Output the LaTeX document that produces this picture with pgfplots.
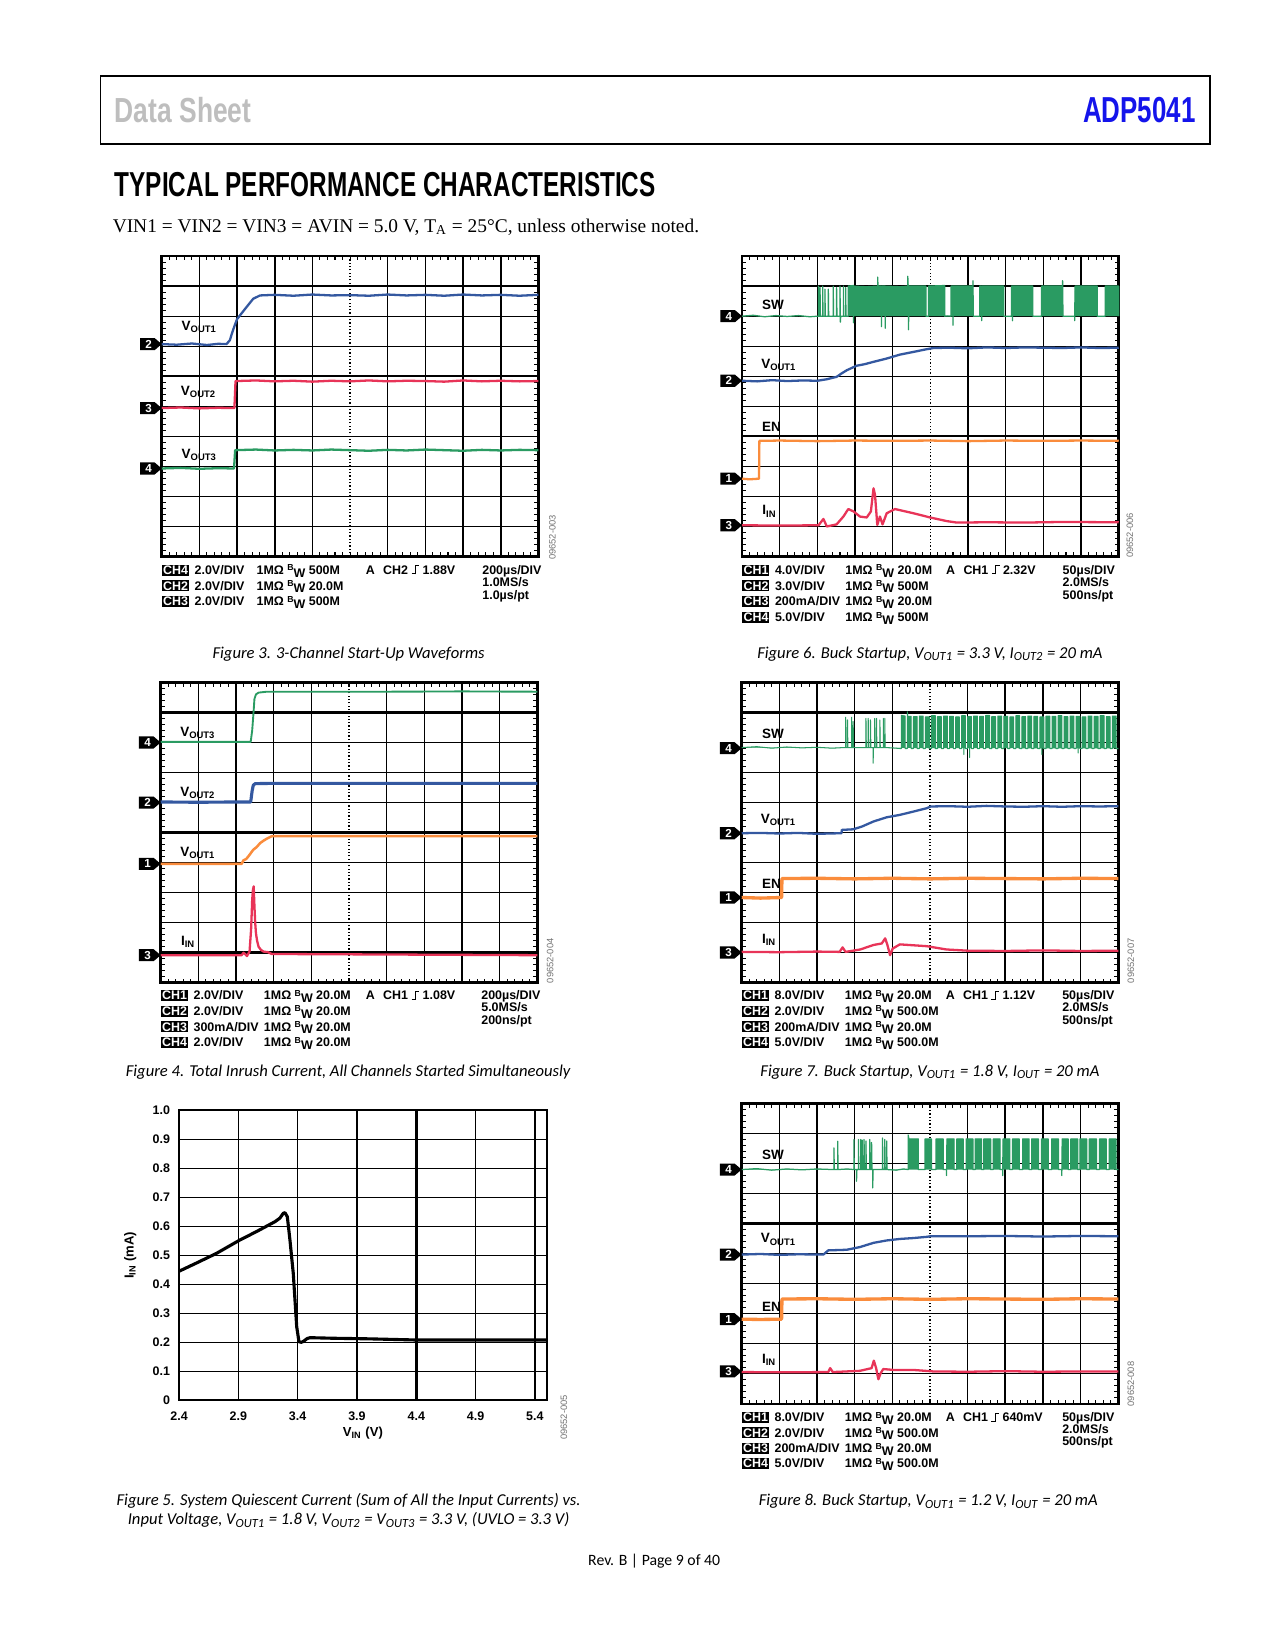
\documentclass[border=0pt]{standalone}
\usepackage{pgfplots}
\pgfplotsset{compat=1.18}
\usepackage{graphicx}
\usepackage{fontspec}
\setmainfont{Liberation Sans}
\newfontfamily\capfont{Carlito}
\newfontfamily\serifont{Liberation Serif}

\definecolor{tblue}{RGB}{52,88,160}
\definecolor{tred}{RGB}{232,52,88}
\definecolor{tgreen}{RGB}{42,155,98}
\definecolor{torange}{RGB}{250,140,60}
\definecolor{adiblue}{RGB}{20,20,235}
\definecolor{hdrgray}{RGB}{190,190,190}

% channel indicator arrows
\newcommand\defchm[1]{%
  \pgfdeclareplotmark{ch#1}{%
    \pgfpathmoveto{\pgfpoint{0bp}{0bp}}%
    \pgfpathlineto{\pgfpoint{-3.4bp}{2.9bp}}%
    \pgfpathlineto{\pgfpoint{-10.4bp}{2.9bp}}%
    \pgfpathlineto{\pgfpoint{-10.4bp}{-2.9bp}}%
    \pgfpathlineto{\pgfpoint{-3.4bp}{-2.9bp}}%
    \pgfpathclose
    \pgfsetfillcolor{black}%
    \pgfusepathqfill
    \pgftext[x=-6.3bp,y=0bp]{\color{white}\fontsize{5.6}{6}\selectfont\bfseries #1}%
  }}
\defchm{1}\defchm{2}\defchm{3}\defchm{4}

\newcommand\chb[1]{{\setlength\fboxsep{0.5bp}\colorbox{black}{\textcolor{white}{#1}}}}
\newcommand\bw{\raisebox{1.7bp}{\fontsize{4.2}{5}\selectfont B}\raisebox{-1.3bp}{W}}
\newcommand\trig{\rule{1.6bp}{0.5bp}\rule{0.5bp}{4.3bp}\rule[3.8bp]{1.6bp}{0.5bp}}
\newcommand\stf{\fontsize{6}{7}\selectfont\bfseries}

% one settings row: x, baseline y, offset of 1MOhm column, channel, volts/div, bandwidth
\newcommand\srow[6]{%
  \node[st] at (#1,#2) {\chb{#4}};
  \node[st] at ({#1+31},#2) {#5};
  \node[st] at ({#1+#3},#2) {1MΩ \bw\ #6};}
\newcommand\figcap[3]{\node[anchor=base,inner sep=0,font=\capfont\itshape\fontsize{8}{9}\selectfont] at (#1,#2) {#3};}

\pgfplotsset{
  scopeax/.style={
    scale only axis, width=180.8bp, height=144.2bp, anchor=south west,
    xmin=0, xmax=10, ymin=0, ymax=10,
    xtick={0,1,2,3,4,6,7,8,9,10}, ytick={0,1,2,3,4,6,7,8,9,10},
    minor xtick={0.2,0.4,...,9.9}, minor ytick={0.2,0.4,...,9.9},
    xticklabels={}, yticklabels={},
    major tick length=0pt, minor tick length=2bp, tick align=inside,
    minor tick style={black, line width=0.5bp},
    grid=major, major grid style={black, line width=0.6bp},
    axis line style={black, line width=1.3bp},
    clip=false,
    every axis plot/.append style={line width=1.1bp, line join=round},
  },
  crossax/.style={
    scale only axis, width=180.8bp, height=144.2bp, anchor=south west,
    xmin=-5, xmax=5, ymin=-5, ymax=5, axis lines=center,
    xtick=\empty, ytick=\empty,
    minor xtick={-4.8,-4.6,...,4.9}, minor ytick={-4.8,-4.6,...,4.9},
    minor tick length=3.4bp, tick align=center,
    minor tick style={black, line width=0.5bp},
    x axis line style={-, black, line width=0.6bp},
    y axis line style={-, black, line width=0.6bp, densely dotted},
  },
}

\begin{document}
\begin{tikzpicture}[x=0.504bp, y=-0.504bp,
  st/.style={anchor=base west, inner sep=0pt, font=\stf},
  lab/.style={anchor=west, inner sep=0pt, font=\fontsize{6.5}{7}\selectfont\bfseries},
  fid/.style={rotate=90, inner sep=0pt, font=\fontsize{4.5}{5}\selectfont, text=black!55}]
\fill[white] (0,0) rectangle (1214.3,1571.4);
\path[use as bounding box] (0,0) rectangle (1214.3,1571.4);
% lower-left corners of the six plot areas
\coordinate (p3) at (154,530);
\coordinate (p6) at (706.7,530);
\coordinate (p4) at (153,936);
\coordinate (p7) at (706.3,936);
\coordinate (p5) at (170.5,1333.6);
\coordinate (p8) at (706.3,1337);

% ---------- page header ----------
\draw[black, line width=0.9bp] (95.7,72) rectangle (1152,137.4);
\node[anchor=south west, inner sep=0pt, text=hdrgray] at (109,117)
  {\resizebox{65.5bp}{12.1bp}{\bfseries Data Sheet}};
\node[anchor=south east, inner sep=0pt, text=adiblue] at (1139,117)
  {\resizebox{53.9bp}{12.1bp}{\bfseries ADP5041}};
\node[anchor=south west, inner sep=0pt] at (109,188)
  {\resizebox{259.6bp}{11.6bp}{\bfseries TYPICAL PERFORMANCE CHARACTERISTICS}};
\node[anchor=base west, inner sep=0pt, font=\serifont\fontsize{9.35}{11}\selectfont] at (107,221)
  {VIN1 = VIN2 = VIN3 = AVIN = 5.0 V, T\textsubscript{A} = 25°C, unless otherwise noted.};

% ---------- Figure 3 ----------
\begin{axis}[crossax, at={(p3)}]\end{axis}
\begin{axis}[scopeax, at={(p3)}]
  \draw[black, line width=1.1bp] (axis cs:3,0) -- (axis cs:3,10);
  \draw[black, line width=1.1bp] (axis cs:9,0) -- (axis cs:9,10);
  \draw[black, line width=1.1bp] (axis cs:0,6) -- (axis cs:10,6);
  \addplot[tblue] coordinates {(0,7.07)(0.4,7.05)(0.8,7.09)(1.2,7.04)(1.5,7.08)(1.72,7.07)(1.81,7.2)(1.87,7.45)(1.94,7.7)(2.0,7.9)(2.08,8.03)(2.25,8.3)(2.43,8.58)(2.61,8.69)(3.0,8.71)(3.5,8.68)(4.0,8.72)(4.5,8.69)(5.0,8.7)(5.5,8.68)(6.0,8.72)(6.5,8.69)(7.0,8.71)(7.5,8.68)(8.0,8.72)(8.5,8.69)(9.0,8.71)(9.5,8.68)(10,8.71)};
  \addplot[tred] coordinates {(0,4.94)(0.5,4.96)(1.0,4.93)(1.5,4.95)(1.93,4.94)(1.96,5.84)(2.5,5.86)(3.0,5.83)(3.5,5.85)(4.0,5.82)(4.5,5.85)(5.0,5.83)(5.5,5.86)(6.0,5.83)(6.5,5.85)(7.0,5.84)(7.5,5.82)(8.0,5.86)(8.5,5.83)(9.0,5.85)(9.5,5.83)(10,5.84)};
  \addplot[tgreen] coordinates {(0,2.93)(0.5,2.95)(1.0,2.92)(1.5,2.94)(1.92,2.93)(1.95,3.54)(2.5,3.56)(3.0,3.53)(3.5,3.55)(4.0,3.53)(4.5,3.56)(5.0,3.54)(5.5,3.52)(6.0,3.55)(6.5,3.53)(7.0,3.56)(7.5,3.54)(8.0,3.52)(8.5,3.55)(9.0,3.53)(9.5,3.55)(10,3.54)};
  \addplot[only marks, mark=ch2] coordinates {(0,7.07)};
  \addplot[only marks, mark=ch3] coordinates {(0,4.94)};
  \addplot[only marks, mark=ch4] coordinates {(0,2.93)};
  \node[lab] at (axis cs:0.52,7.64) {V\textsubscript{OUT1}};
  \node[lab] at (axis cs:0.5,5.48) {V\textsubscript{OUT2}};
  \node[lab] at (axis cs:0.52,3.38) {V\textsubscript{OUT3}};
\end{axis}
\srow{154}{547}{90}{CH4}{2.0V/DIV}{500M}
\srow{154}{562}{90}{CH2}{2.0V/DIV}{20.0M}
\srow{154}{577}{90}{CH3}{2.0V/DIV}{500M}
\node[st] at (348,547) {A\hspace{4bp}CH2 \trig\ 1.88V};
\node[st] at (459,547) {200µs/DIV};
\node[st] at (459,558.7) {1.0MS/s};
\node[st] at (459,570.7) {1.0µs/pt};
\node[fid] at (526,512) {09652-003};
\figcap{332}{627}{Figure 3. 3-Channel Start-Up Waveforms}

% ---------- Figure 6 ----------
\begin{axis}[crossax, at={(p6)}]\end{axis}
\begin{axis}[scopeax, at={(p6)}]
  \draw[black, line width=1.1bp] (axis cs:3,0) -- (axis cs:3,10);
  \draw[black, line width=1.1bp] (axis cs:0,4) -- (axis cs:10,4);
  \addplot[tgreen, fill=tgreen, line width=0.6bp] coordinates {(0,8.0)(0.3,8.03)(0.6,7.98)(0.9,8.02)(1.2,7.99)(1.5,8.02)(1.8,7.98)(2.0,8.0)
    (2.03,8.0)(2.03,9.0)(2.04,8.0)(2.07,8.0)(2.07,8.95)(2.08,8.0)(2.14,8.0)(2.14,9.0)(2.15,8.0)(2.2,8.0)(2.2,8.9)(2.21,8.0)
    (2.29,8.0)(2.29,8.9)(2.3,8.0)(2.42,8.0)(2.42,9.0)(2.43,8.0)(2.51,8.0)(2.51,8.95)(2.52,8.0)(2.6,8.0)(2.6,9.0)(2.61,7.8)(2.62,8.0)
    (2.69,8.0)(2.69,9.0)(2.7,8.0)(2.75,8.0)(2.75,8.95)(2.76,8.0)
    (2.82,8.0)(2.82,9.0)(2.96,9.02)(2.96,7.78)(2.97,9.0)(3.3,8.98)(3.6,9.0)(3.6,9.3)(3.61,9.0)(3.7,9.0)(3.7,7.65)(3.71,9.0)(3.8,9.0)(3.8,7.6)(3.81,9.0)(4.2,8.98)(4.4,9.0)(4.4,9.33)(4.41,9.0)(4.42,7.55)(4.43,9.0)(4.88,9.0)(4.88,8.0)
    (4.95,8.0)(4.95,9.0)(5.38,9.02)(5.38,8.0)(5.45,8.01)
    (5.55,8.0)(5.55,9.0)(5.6,9.0)(5.6,7.7)(5.61,9.0)(6.13,9.0)(6.13,9.18)(6.14,8.0)
    (6.31,8.0)(6.31,9.0)(6.36,9.0)(6.36,7.85)(6.37,9.0)(6.95,9.0)(6.95,8.0)
    (7.15,8.0)(7.15,9.0)(7.18,9.0)(7.18,7.85)(7.19,9.0)(7.72,9.0)(7.72,8.0)
    (7.95,8.0)(7.95,9.0)(8.51,9.0)(8.51,9.18)(8.52,8.0)
    (8.83,8.0)(8.83,7.85)(8.84,9.0)(9.43,9.0)(9.43,8.0)
    (9.64,8.0)(9.64,9.0)(10,9.0)(10,8.0)};
  \addplot[tblue] coordinates {(0,5.85)(0.4,5.83)(0.8,5.87)(1.2,5.84)(1.6,5.86)(2.0,5.85)(2.25,5.9)(2.51,5.98)(2.65,6.1)(2.78,6.2)(3.04,6.35)(3.25,6.4)(3.49,6.48)(3.84,6.59)(4.19,6.72)(4.55,6.81)(4.9,6.9)(5.08,6.94)(5.5,6.95)(6,6.93)(6.5,6.96)(7,6.94)(7.5,6.96)(8,6.95)(8.5,6.94)(9,6.96)(9.5,6.94)(10,6.95)};
  \addplot[torange] coordinates {(0,2.59)(0.2,2.57)(0.45,2.59)(0.46,3.85)(1,3.86)(2,3.84)(3,3.86)(4,3.85)(5,3.86)(6,3.84)(7,3.86)(8,3.85)(9,3.86)(10,3.85)};
  \addplot[tred] coordinates {(0,1.04)(1,1.03)(2.03,1.04)(2.16,1.25)(2.25,1.0)(2.51,1.07)(2.69,1.33)(2.82,1.58)(2.96,1.5)(3.13,1.33)(3.31,1.3)(3.42,1.5)(3.49,2.27)(3.53,2.05)(3.59,1.05)(3.66,1.33)(3.73,1.07)(3.84,1.44)(4.06,1.58)(4.55,1.44)(4.99,1.3)(5.43,1.18)(5.7,1.13)(6.5,1.14)(7.5,1.13)(8.5,1.15)(10,1.14)};
  \addplot[only marks, mark=ch4] coordinates {(0,8.0)};
  \addplot[only marks, mark=ch2] coordinates {(0,5.85)};
  \addplot[only marks, mark=ch1] coordinates {(0,2.59)};
  \addplot[only marks, mark=ch3] coordinates {(0,1.04)};
  \node[lab] at (axis cs:0.52,8.38) {SW};
  \node[lab] at (axis cs:0.5,6.37) {V\textsubscript{OUT1}};
  \node[lab] at (axis cs:0.52,4.32) {EN};
  \node[lab] at (axis cs:0.53,1.5) {I\textsubscript{IN}};
\end{axis}
\srow{706.7}{547}{98}{CH1}{4.0V/DIV}{20.0M}
\srow{706.7}{562}{98}{CH2}{3.0V/DIV}{500M}
\srow{706.7}{577}{98}{CH3}{200mA/DIV}{20.0M}
\srow{706.7}{592}{98}{CH4}{5.0V/DIV}{500M}
\node[st] at (900.7,547) {A\hspace{4bp}CH1 \trig\ 2.32V};
\node[st] at (1011.7,547) {50µs/DIV};
\node[st] at (1011.7,558.7) {2.0MS/s};
\node[st] at (1011.7,570.7) {500ns/pt};
\node[fid] at (1076,510) {09652-006};
\figcap{885.6}{627}{Figure 6. Buck Startup, V\textsubscript{OUT1} = 3.3 V, I\textsubscript{OUT2} = 20 mA}

% ---------- Figure 4 ----------
\begin{axis}[crossax, at={(p4)}]\end{axis}
\begin{axis}[scopeax, at={(p4)}]
  \draw[black, line width=1.1bp] (axis cs:0,9) -- (axis cs:10,9);
  \draw[black, line width=1.1bp] (axis cs:0,5) -- (axis cs:10,5);
  \draw[black, line width=1.3bp] (axis cs:0,1) -- (axis cs:10,1);
  \addplot[tgreen, line width=0.9bp] coordinates {(0,8.02)(1,8.02)(2,8.02)(2.39,8.02)(2.43,8.4)(2.46,8.9)(2.49,9.45)(2.53,9.6)(2.6,9.66)(2.82,9.69)(4,9.69)(6,9.69)(8,9.7)(10,9.69)};
  \addplot[tblue, line width=1.5bp] coordinates {(0,6.02)(1,6.01)(2,6.02)(2.39,6.02)(2.43,6.4)(2.46,6.58)(2.51,6.63)(3,6.64)(10,6.64)};
  \addplot[torange, line width=1.2bp] coordinates {(0,3.96)(2.15,3.96)(2.2,4.08)(2.27,4.12)(2.33,4.21)(2.4,4.33)(2.46,4.43)(2.55,4.52)(2.64,4.65)(2.73,4.73)(2.82,4.8)(2.95,4.88)(10,4.88)};
  \addplot[tred] coordinates {(0,0.92)(2.15,0.92)(2.2,1.0)(2.25,0.95)(2.29,0.89)(2.36,1.04)(2.4,1.76)(2.42,2.4)(2.43,2.76)(2.45,3.1)(2.47,3.21)(2.49,2.54)(2.51,2.0)(2.53,1.65)(2.56,1.4)(2.6,1.2)(2.66,1.1)(2.73,1.04)(2.85,1.02)(2.95,0.96)(10,0.92)};
  \addplot[only marks, mark=ch4] coordinates {(0,8.0)};
  \addplot[only marks, mark=ch2] coordinates {(0,6.0)};
  \addplot[only marks, mark=ch1] coordinates {(0,3.96)};
  \addplot[only marks, mark=ch3] coordinates {(0,0.92)};
  \node[lab] at (axis cs:0.51,8.33) {V\textsubscript{OUT3}};
  \node[lab] at (axis cs:0.51,6.33) {V\textsubscript{OUT2}};
  \node[lab] at (axis cs:0.51,4.32) {V\textsubscript{OUT1}};
  \node[lab] at (axis cs:0.53,1.37) {I\textsubscript{IN}};
\end{axis}
\srow{153}{952}{98}{CH1}{2.0V/DIV}{20.0M}
\srow{153}{967}{98}{CH2}{2.0V/DIV}{20.0M}
\srow{153}{982}{98}{CH3}{300mA/DIV}{20.0M}
\srow{153}{997}{98}{CH4}{2.0V/DIV}{20.0M}
\node[st] at (348,952) {A\hspace{4bp}CH1 \trig\ 1.08V};
\node[st] at (458,952) {200µs/DIV};
\node[st] at (458,963.7) {5.0MS/s};
\node[st] at (458,975.7) {200ns/pt};
\node[fid] at (524,915) {09652-004};
\figcap{331.5}{1025}{Figure 4. Total Inrush Current, All Channels Started Simultaneously}

% ---------- Figure 7 ----------
\begin{axis}[crossax, at={(p7)}]\end{axis}
\begin{axis}[scopeax, at={(p7)}]
  \draw[black, line width=1.1bp] (axis cs:7,0) -- (axis cs:7,10);
  \draw[black, line width=1.1bp] (axis cs:0,9) -- (axis cs:10,9);
  \addplot[tgreen, fill=tgreen, line width=0.5bp] coordinates {(0,7.83)(0.4,7.86)(0.8,7.81)(1.2,7.85)(1.6,7.82)(2.0,7.84)(2.4,7.81)(2.7,7.83)
    (2.76,7.83)(2.76,8.84)(2.77,7.83)(2.81,7.83)(2.81,8.75)(2.82,7.83)(2.92,7.83)(2.92,8.84)(2.93,7.83)(2.96,7.83)(2.96,8.7)(2.97,7.83)
    (3.3,7.83)(3.3,8.8)(3.31,7.83)(3.36,7.83)(3.36,8.8)(3.37,7.83)(3.42,7.83)(3.42,8.75)(3.43,7.83)(3.49,7.83)(3.49,7.31)(3.5,7.83)
    (3.53,7.83)(3.53,8.8)(3.54,7.83)(3.58,7.83)(3.58,8.8)(3.59,7.83)(3.67,7.83)(3.67,8.75)(3.68,7.83)(3.76,7.83)(3.76,8.8)(3.77,7.83)(3.8,7.83)(3.8,8.8)(3.81,7.83)
    (4.0,7.82)(4.2,7.8)
    (4.24,7.8)(4.24,8.9)(4.34,8.88)(4.34,7.8)
    (4.40,7.8)(4.40,9.02)(4.41,8.87)(4.50,8.87)(4.50,7.8)
    (4.56,7.8)(4.56,8.86)(4.66,8.86)(4.66,7.8)
    (4.72,7.8)(4.72,8.88)(4.82,8.88)(4.82,7.8)
    (4.88,7.8)(4.88,8.85)(4.98,8.85)(4.98,7.8)
    (5.04,7.8)(5.04,8.89)(5.14,8.89)(5.14,7.8)
    (5.20,7.8)(5.20,8.86)(5.30,8.86)(5.30,7.8)
    (5.36,7.8)(5.36,8.88)(5.46,8.88)(5.46,7.8)
    (5.52,7.8)(5.52,8.87)(5.62,8.87)(5.62,7.8)
    (5.68,7.8)(5.68,8.85)(5.78,8.85)(5.78,7.8)
    (5.84,7.8)(5.84,8.89)(5.9,8.89)(5.9,7.6)(5.91,8.89)(5.94,8.89)(5.94,7.8)
    (6.00,7.8)(6.00,8.86)(6.05,8.86)(6.05,7.5)(6.06,8.86)(6.10,8.86)(6.10,7.8)
    (6.16,7.8)(6.16,8.88)(6.26,8.88)(6.26,7.8)
    (6.32,7.8)(6.32,8.87)(6.42,8.87)(6.42,7.8)
    (6.48,7.8)(6.48,8.9)(6.58,8.9)(6.58,7.8)
    (6.64,7.8)(6.64,8.86)(6.74,8.86)(6.74,7.8)
    (6.80,7.8)(6.80,8.88)(6.90,8.88)(6.90,7.8)
    (6.96,7.8)(6.96,8.87)(7.06,8.87)(7.06,7.8)
    (7.12,7.8)(7.12,8.85)(7.22,8.85)(7.22,7.8)
    (7.28,7.8)(7.28,8.89)(7.38,8.89)(7.38,7.8)
    (7.44,7.8)(7.44,8.86)(7.54,8.86)(7.54,7.8)
    (7.60,7.8)(7.60,8.88)(7.70,8.88)(7.70,7.8)
    (7.76,7.8)(7.76,8.87)(7.86,8.87)(7.86,7.8)
    (7.92,7.8)(7.92,8.85)(7.97,8.85)(7.97,7.6)(7.98,8.85)(8.02,8.85)(8.02,7.8)
    (8.08,7.8)(8.08,8.88)(8.18,8.88)(8.18,7.8)
    (8.24,7.8)(8.24,8.87)(8.34,8.87)(8.34,7.8)
    (8.40,7.8)(8.40,8.89)(8.50,8.89)(8.50,7.8)
    (8.56,7.8)(8.56,8.86)(8.66,8.86)(8.66,7.8)
    (8.72,7.8)(8.72,8.88)(8.82,8.88)(8.82,7.8)
    (8.88,7.8)(8.88,8.87)(8.93,8.87)(8.93,7.65)(8.94,8.87)(8.98,8.87)(8.98,7.8)
    (9.04,7.8)(9.04,8.85)(9.14,8.85)(9.14,7.8)
    (9.20,7.8)(9.20,8.88)(9.30,8.88)(9.30,7.8)
    (9.36,7.8)(9.36,8.87)(9.46,8.87)(9.46,7.8)
    (9.52,7.8)(9.52,8.89)(9.62,8.89)(9.62,7.8)
    (9.68,7.8)(9.68,8.86)(9.78,8.86)(9.78,7.8)
    (9.84,7.8)(9.84,8.88)(9.94,8.88)(9.94,7.8)(10,7.8)};
  \addplot[tblue] coordinates {(0,4.98)(0.5,4.99)(1,4.97)(1.5,4.99)(2,4.96)(2.65,4.98)(2.66,5.09)(2.96,5.11)(3.19,5.2)(3.5,5.37)(3.85,5.51)(4.2,5.59)(4.56,5.7)(4.91,5.81)(5.02,5.87)(5.5,5.88)(6,5.86)(6.5,5.89)(7,5.87)(7.5,5.86)(8,5.88)(8.5,5.86)(9,5.88)(9.5,5.87)(10,5.88)};
  \addplot[torange, line width=1.6bp] coordinates {(0,2.84)(0.5,2.82)(1.06,2.84)(1.07,3.47)(2,3.48)(3,3.46)(4,3.48)(5,3.46)(6,3.48)(7,3.47)(8,3.46)(9,3.48)(10,3.47)};
  \addplot[tred] coordinates {(0,1.03)(1,1.02)(2,1.04)(2.6,1.03)(2.68,1.18)(2.76,1.03)(3.15,1.11)(3.5,1.26)(3.72,1.31)(3.81,1.48)(3.87,1.26)(3.94,0.92)(4.01,1.14)(4.2,1.28)(4.91,1.22)(5.44,1.11)(6,1.07)(7,1.06)(8,1.08)(9,1.06)(10,1.07)};
  \addplot[only marks, mark=ch4] coordinates {(0,7.81)};
  \addplot[only marks, mark=ch2] coordinates {(0,4.98)};
  \addplot[only marks, mark=ch1] coordinates {(0,2.84)};
  \addplot[only marks, mark=ch3] coordinates {(0,1.01)};
  \node[lab] at (axis cs:0.53,8.28) {SW};
  \node[lab] at (axis cs:0.5,5.42) {V\textsubscript{OUT1}};
  \node[lab] at (axis cs:0.53,3.28) {EN};
  \node[lab] at (axis cs:0.53,1.44) {I\textsubscript{IN}};
\end{axis}
\srow{706.3}{952}{98}{CH1}{8.0V/DIV}{20.0M}
\srow{706.3}{967}{98}{CH2}{2.0V/DIV}{500.0M}
\srow{706.3}{982}{98}{CH3}{200mA/DIV}{20.0M}
\srow{706.3}{997}{98}{CH4}{5.0V/DIV}{500.0M}
\node[st] at (900.3,952) {A\hspace{4bp}CH1 \trig\ 1.12V};
\node[st] at (1011.3,952) {50µs/DIV};
\node[st] at (1011.3,963.7) {2.0MS/s};
\node[st] at (1011.3,975.7) {500ns/pt};
\node[fid] at (1077,915) {09652-007};
\figcap{885.6}{1025}{Figure 7. Buck Startup, V\textsubscript{OUT1} = 1.8 V, I\textsubscript{OUT} = 20 mA}

% ---------- Figure 5 ----------
\begin{axis}[at={(p5)}, anchor=south west, scale only axis,
  width=176.5bp, height=139.2bp,
  xmin=2.4, xmax=5.5, ymin=0, ymax=1,
  xtick={2.4,2.9,3.4,3.9,4.4,4.9,5.4}, xticklabels={2.4,2.9,3.4,3.9,4.4,4.9,5.4},
  ytick={0,0.1,0.2,0.3,0.4,0.5,0.6,0.7,0.8,0.9,1.0},
  yticklabels={0,0.1,0.2,0.3,0.4,0.5,0.6,0.7,0.8,0.9,1.0},
  grid=major, major grid style={black, line width=0.6bp}, major tick length=0pt,
  axis line style={black, line width=1.1bp},
  ticklabel style={font=\fontsize{6}{7}\selectfont\bfseries},
  xticklabel style={yshift=-2.2bp}, yticklabel style={xshift=-0.8bp},
  xlabel={V\textsubscript{IN} (V)}, ylabel={I\textsubscript{IN} (mA)},
  label style={font=\fontsize{6.3}{7}\selectfont\bfseries},
  xlabel style={at={(axis description cs:0.5,-0.124)}, anchor=base},
  ylabel style={at={(axis description cs:-0.1326,0.5)}, anchor=center},
  clip=false]
  \draw[black, line width=1.4bp] (axis cs:4.4,0) -- (axis cs:4.4,1);
  \addplot[black, line width=1.5bp, line join=round] coordinates {(2.4,0.445)(2.55,0.474)(2.717,0.507)(2.914,0.553)(3.054,0.582)(3.209,0.616)(3.25,0.628)(3.279,0.645)(3.293,0.647)(3.313,0.633)(3.335,0.553)(3.363,0.438)(3.392,0.254)(3.411,0.202)(3.43,0.2)(3.448,0.203)(3.48,0.213)(3.504,0.216)(3.7,0.214)(4.0,0.212)(4.4,0.208)(5.0,0.208)(5.5,0.208)};
\end{axis}
\node[fid] at (537,1350) {09652-005};
\figcap{332}{1434}{Figure 5. System Quiescent Current (Sum of All the Input Currents) vs.}
\figcap{332}{1452}{Input Voltage, V\textsubscript{OUT1} = 1.8 V, V\textsubscript{OUT2} = V\textsubscript{OUT3} = 3.3 V, (UVLO = 3.3 V)}

% ---------- Figure 8 ----------
\begin{axis}[crossax, at={(p8)}]\end{axis}
\begin{axis}[scopeax, at={(p8)}]
  \draw[black, line width=1.1bp] (axis cs:7,0) -- (axis cs:7,10);
  \draw[black, line width=1.1bp] (axis cs:0,6) -- (axis cs:10,6);
  \addplot[tgreen, fill=tgreen, line width=0.6bp] coordinates {(0,7.8)(0.4,7.83)(0.8,7.78)(1.2,7.82)(1.6,7.79)(2.0,7.82)(2.42,7.8)
    (2.45,7.8)(2.45,8.52)(2.46,7.8)(2.55,7.8)(2.55,8.74)(2.56,7.8)(2.8,7.82)
    (2.98,7.8)(2.98,8.8)(2.99,7.8)(3.05,7.8)(3.05,7.41)(3.06,7.8)
    (3.1,7.8)(3.1,8.8)(3.11,7.8)(3.16,7.8)(3.16,8.8)(3.17,7.8)(3.2,7.8)(3.2,8.78)(3.21,7.8)(3.25,7.8)(3.25,8.8)(3.26,7.8)
    (3.3,7.8)(3.3,8.75)(3.31,7.8)(3.4,7.8)(3.4,8.8)(3.41,7.8)(3.45,7.8)(3.45,8.7)(3.46,7.8)(3.48,7.8)(3.48,7.19)(3.49,7.8)
    (3.74,7.8)(3.74,8.85)(3.75,7.8)(3.8,7.8)(3.8,8.8)(3.81,7.8)(3.85,7.8)(3.85,8.75)(3.86,7.8)(4.1,7.78)(4.3,7.82)
    (4.42,7.8)(4.42,8.95)(4.44,8.82)(4.69,8.82)(4.69,7.8)
    (4.87,7.8)(4.87,8.82)(5.04,8.82)(5.04,7.8)
    (5.16,7.8)(5.16,8.82)(5.35,8.82)(5.35,7.8)
    (5.44,7.8)(5.44,7.6)(5.45,8.82)(5.64,8.82)(5.64,7.8)
    (5.71,7.8)(5.71,8.82)(5.88,8.82)(5.88,7.8)
    (5.96,7.8)(5.96,8.82)(6.14,8.82)(6.14,7.8)
    (6.2,7.8)(6.2,8.82)(6.37,8.82)(6.37,7.8)
    (6.43,7.8)(6.43,8.82)(6.61,8.82)(6.61,7.8)
    (6.68,7.8)(6.68,8.82)(6.86,8.82)(6.86,7.8)
    (6.93,7.8)(6.93,7.6)(6.94,8.82)(7.12,8.82)(7.12,7.8)
    (7.19,7.8)(7.19,8.82)(7.37,8.82)(7.37,7.8)
    (7.46,7.8)(7.46,8.82)(7.63,8.82)(7.63,7.8)
    (7.7,7.8)(7.7,8.82)(7.88,8.82)(7.88,7.8)
    (7.96,7.8)(7.96,8.82)(8.14,8.82)(8.14,7.8)
    (8.23,7.8)(8.23,8.82)(8.41,8.82)(8.41,7.8)
    (8.5,7.8)(8.5,7.6)(8.51,8.82)(8.67,8.82)(8.67,7.8)
    (8.74,7.8)(8.74,8.82)(8.92,8.82)(8.92,7.8)
    (8.98,7.8)(8.98,8.82)(9.16,8.82)(9.16,7.8)
    (9.23,7.8)(9.23,8.82)(9.42,8.82)(9.42,7.8)
    (9.5,7.8)(9.5,8.82)(9.68,8.82)(9.68,7.8)
    (9.76,7.8)(9.76,8.82)(9.94,8.82)(9.94,7.8)(10,7.8)};
  \addplot[tblue] coordinates {(0,4.97)(0.5,4.99)(1,4.96)(1.5,4.98)(2.17,4.97)(2.3,5.11)(2.79,5.13)(3.14,5.22)(3.5,5.36)(3.85,5.44)(4.2,5.49)(4.56,5.52)(4.91,5.56)(5.02,5.58)(6,5.58)(7,5.59)(8,5.57)(9,5.59)(10,5.58)};
  \addplot[torange, line width=1.6bp] coordinates {(0,2.82)(0.5,2.81)(1.06,2.82)(1.07,3.49)(2,3.5)(3,3.48)(4,3.5)(5,3.48)(6,3.5)(7,3.49)(8,3.48)(9,3.5)(10,3.49)};
  \addplot[tred] coordinates {(0,1.06)(1,1.05)(2.3,1.06)(2.35,1.19)(2.42,1.06)(3.14,1.1)(3.45,1.19)(3.51,1.44)(3.57,1.19)(3.63,0.82)(3.69,1.02)(3.76,1.16)(4.03,1.13)(4.56,1.13)(5.09,1.08)(6,1.07)(7,1.09)(8,1.07)(9,1.08)(10,1.08)};
  \addplot[only marks, mark=ch4] coordinates {(0,7.8)};
  \addplot[only marks, mark=ch2] coordinates {(0,4.97)};
  \addplot[only marks, mark=ch1] coordinates {(0,2.82)};
  \addplot[only marks, mark=ch3] coordinates {(0,1.08)};
  \node[lab] at (axis cs:0.53,8.3) {SW};
  \node[lab] at (axis cs:0.5,5.47) {V\textsubscript{OUT1}};
  \node[lab] at (axis cs:0.53,3.24) {EN};
  \node[lab] at (axis cs:0.53,1.47) {I\textsubscript{IN}};
\end{axis}
\srow{706.3}{1354}{98}{CH1}{8.0V/DIV}{20.0M}
\srow{706.3}{1368.7}{98}{CH2}{2.0V/DIV}{500.0M}
\srow{706.3}{1383.4}{98}{CH3}{200mA/DIV}{20.0M}
\srow{706.3}{1398}{98}{CH4}{5.0V/DIV}{500.0M}
\node[st] at (900.3,1354) {A\hspace{4bp}CH1 \trig\ 640mV};
\node[st] at (1011.3,1354) {50µs/DIV};
\node[st] at (1011.3,1365.5) {2.0MS/s};
\node[st] at (1011.3,1377) {500ns/pt};
\node[fid] at (1077,1318) {09652-008};
\figcap{884}{1434}{Figure 8. Buck Startup, V\textsubscript{OUT1} = 1.2 V, I\textsubscript{OUT} = 20 mA}

% ---------- footer ----------
\node[anchor=base, inner sep=0pt, font=\capfont\fontsize{7.6}{9}\selectfont] at (623,1491) {Rev. B | Page 9 of 40};
\end{tikzpicture}
\end{document}
